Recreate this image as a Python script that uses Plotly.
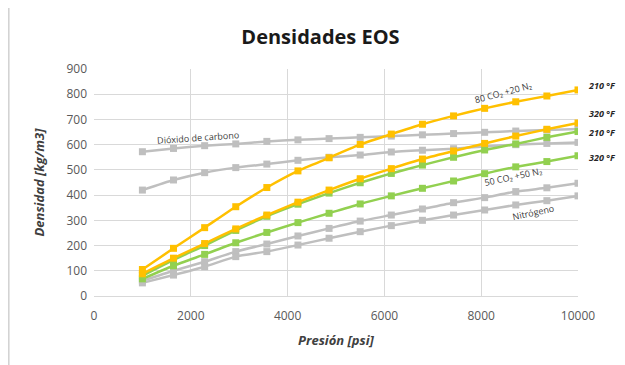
import plotly.graph_objects as go

presion = [1000, 1643, 2286, 2929, 3571, 4214, 4857, 5500, 6143, 6786, 7429, 8071, 8714, 9357, 10000]

co2_210 = [572, 585, 596, 603, 613, 619, 624, 629, 634, 639, 644, 649, 654, 658, 662]
co2_320 = [420, 460, 489, 509, 523, 538, 550, 559, 571, 578, 584, 593, 600, 605, 609]
mix80_210 = [105, 189, 271, 354, 430, 496, 548, 601, 642, 681, 714, 744, 770, 793, 817]
mix80_320 = [88, 150, 208, 266, 321, 372, 420, 465, 505, 543, 575, 605, 634, 661, 686]
mix50_210 = [80, 143, 200, 260, 316, 364, 408, 449, 486, 519, 550, 579, 603, 629, 652]
mix50_320 = [68, 120, 165, 211, 252, 291, 328, 365, 397, 427, 456, 485, 512, 533, 556]
n2_210 = [60, 100, 136, 176, 206, 238, 268, 297, 321, 345, 370, 390, 414, 429, 447]
n2_320 = [52, 83, 116, 156, 176, 202, 229, 255, 279, 300, 321, 341, 361, 378, 397]

GRAY = "#BFBFBF"
ORANGE = "#FFC000"
GREEN = "#92D050"

series = [
    ("CO2 210", co2_210, GRAY),
    ("CO2 320", co2_320, GRAY),
    ("N2 210", n2_210, GRAY),
    ("N2 320", n2_320, GRAY),
    ("50/50 320", mix50_320, GREEN),
    ("50/50 210", mix50_210, GREEN),
    ("80/20 320", mix80_320, ORANGE),
    ("80/20 210", mix80_210, ORANGE),
]

FONT = "Open Sans, Liberation Sans, sans-serif"

fig = go.Figure()
for name, ys, col in series:
    fig.add_trace(go.Scatter(
        x=presion, y=ys, mode="lines+markers", name=name,
        line=dict(color=col, width=2.5, shape="spline", smoothing=0.5),
        marker=dict(symbol="square", size=7, color=col),
        showlegend=False,
    ))

lab_font = dict(family=FONT, size=9, color="#404040")
annots = [
    dict(x=2155, y=630, text="Dióxido de carbono", textangle=-4),
    dict(x=8445, y=805, text="80 CO₂ +20 N₂", textangle=-15),
    dict(x=8660, y=472, text="50 CO₂ +50 N₂", textangle=-12),
    dict(x=9064, y=333, text="Nitrógeno", textangle=-12),
]
for a in annots:
    fig.add_annotation(x=a["x"], y=a["y"], xref="x", yref="y", text=a["text"],
                       textangle=a["textangle"], showarrow=False, font=lab_font)

temp_font = dict(family=FONT, size=9, color="#262626")
for yv, t in [(833, "<b><i>210 °F</i></b>"), (722, "<b><i>320 °F</i></b>"),
              (650, "<b><i>210 °F</i></b>"), (551, "<b><i>320 °F</i></b>")]:
    fig.add_annotation(x=1.05, y=yv, xref="paper", yref="y", text=t,
                       xanchor="center", yanchor="middle",
                       showarrow=False, font=temp_font)

# thin border line at the left edge of the chart area
fig.add_shape(type="line", xref="paper", yref="paper", x0=-0.176, x1=-0.176, y0=-0.35, y1=1.3,
              line=dict(color="#D0D0D0", width=1.5))

fig.update_layout(
    width=625, height=365,
    margin=dict(l=86, r=55, t=61, b=77),
    paper_bgcolor="white", plot_bgcolor="white",
    title=dict(text="<b>Densidades EOS</b>", x=0.5, xanchor="center", y=0.92, yanchor="middle",
               font=dict(family=FONT, size=20, color="#1a1a1a")),
    font=dict(family=FONT, size=12, color="#595959"),
)
fig.update_xaxes(
    range=[0, 10000], dtick=2000, tick0=0, tickformat="d",
    showgrid=True, gridcolor="#D9D9D9", gridwidth=1, automargin=False,
    zeroline=False, showline=True, linecolor="#D9D9D9", mirror=False,
    ticks="", ticklabelstandoff=9, tickfont=dict(family=FONT, size=12, color="#595959"),
    title=dict(text="<b><i>Presión [psi]</i></b>", font=dict(family=FONT, size=13, color="#404040"), standoff=12),
)
fig.update_yaxes(
    range=[0, 900], dtick=100, tick0=0, tickformat="d",
    showgrid=True, gridcolor="#D9D9D9", gridwidth=1, automargin=False,
    zeroline=False, showline=False,
    ticks="", ticklabelstandoff=6, tickfont=dict(family=FONT, size=12, color="#595959"),
    title=dict(text="<b><i>Densidad [kg/m3]</i></b>", font=dict(family=FONT, size=13, color="#404040"), standoff=18),
)

fig.write_html("out.html")
